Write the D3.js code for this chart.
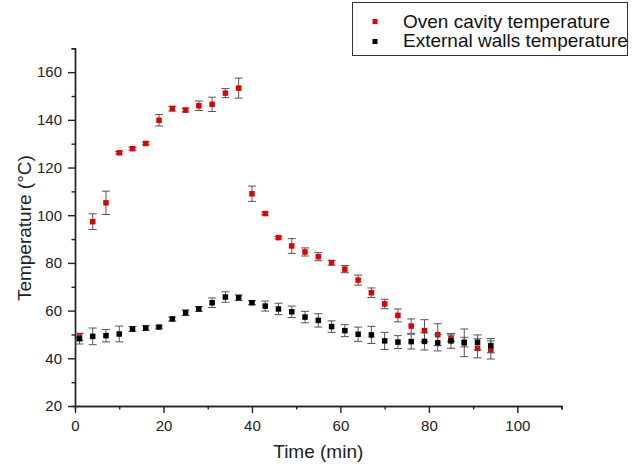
<!DOCTYPE html>
<html>
<head>
<meta charset="utf-8">
<script src="https://cdn.jsdelivr.net/npm/d3@7"></script>
<style>
  body { margin: 0; background: #fff; }
  svg { font-family: "Liberation Sans", Arial, sans-serif; }
</style>
</head>
<body>
<div id="chart"></div>
<script>
"use strict";
// temps de mesure (min)
const time = [1,4,7,10,13,16,19,22,25,28,31,34,37,40,43,46,49,52,55,58,61,64,67,70,73,76,79,82,85,88,91,94];
// four : cavité
const ovenTemp = [49.0,97.3,105.2,126.2,127.9,130.1,139.8,144.7,144.1,145.9,146.5,151.2,153.3,109.0,100.7,90.6,87.1,84.6,82.6,80.1,77.4,72.8,67.5,62.8,58.0,53.5,51.6,49.9,48.4,46.8,44.2,43.5];
const ovenErr = [1.5,3.3,4.9,0.5,0.6,0.6,2.4,1.0,0.8,2.0,3.0,1.9,4.2,3.2,0.6,0.5,3.1,1.7,1.7,1.0,1.5,2.1,2.0,2.0,2.7,3.0,4.6,4.6,1.4,2.0,4.0,3.8];
// parois externes
const wallTemp = [48.2,49.2,49.5,50.2,52.3,52.7,53.1,56.5,59.1,60.7,63.3,65.7,65.4,63.3,61.9,60.7,59.5,57.3,55.9,53.3,51.6,50.1,49.8,47.3,46.8,47.0,47.1,46.5,47.3,46.5,46.7,45.3];
const wallErr = [2.2,3.5,2.6,3.3,1.0,1.0,0.5,0.8,1.2,1.0,2.0,2.2,1.2,0.8,2.1,2.4,2.4,2.4,2.8,2.4,2.5,3.0,3.6,3.6,2.7,3.1,3.6,3.4,3.1,5.8,3.1,3.0];
const seriesNames = ["Oven cavity temperature", "External walls temperature"];
const seriesColors = ["#e00000", "#000000"];
const xMajor = [0,20,40,60,80,100];
const yMajor = [20,40,60,80,100,120,140,160];

const W = 632, H = 470;
const mLeft = 75, mRight = 561.6, mTop = 48.3, mBottom = 406;

const svg = d3.select("#chart").append("svg")
  .attr("width", W).attr("height", H);

const x = d3.scaleLinear().domain([0, 110]).range([mLeft, mRight]);
const y = d3.scaleLinear().domain([20, 170]).range([mBottom, mTop]);

// axes : graduations majeures + mineures
const xMinor = d3.range(10, 111, 20);
const yMinor = d3.range(30, 171, 20);

function styleAxis(g) {
  g.select(".domain").attr("stroke", "#222").attr("stroke-width", 1.4);
  g.selectAll(".tick line").attr("stroke", "#222").attr("stroke-width", 1.4);
  g.selectAll(".tick text").attr("fill", "#222").attr("font-size", 15);
}

svg.append("g").attr("transform", `translate(0,${mBottom})`)
  .call(d3.axisBottom(x).tickValues(xMinor).tickSize(3.5).tickFormat(""))
  .call(g => styleAxis(g));
svg.append("g").attr("transform", `translate(0,${mBottom})`)
  .call(d3.axisBottom(x).tickValues(xMajor).tickSize(7).tickSizeOuter(0).tickPadding(7))
  .call(g => styleAxis(g));

svg.append("g").attr("transform", `translate(${mLeft},0)`)
  .call(d3.axisLeft(y).tickValues(yMinor).tickSize(3.5).tickFormat(""))
  .call(g => styleAxis(g));
svg.append("g").attr("transform", `translate(${mLeft},0)`)
  .call(d3.axisLeft(y).tickValues(yMajor).tickSize(7).tickSizeOuter(0).tickPadding(6))
  .call(g => styleAxis(g));

// titres des axes
svg.append("text")
  .attr("x", x(55)).attr("y", 458)
  .attr("text-anchor", "middle").attr("font-size", 19).attr("fill", "#222")
  .text("Time (min)");
svg.append("text")
  .attr("transform", `translate(31,${(mTop + mBottom) / 2 + 1}) rotate(-90)`)
  .attr("text-anchor", "middle").attr("font-size", 19).attr("fill", "#222")
  .text("Temperature (°C)");

// séries avec barres d'erreur
const series = [
  { vals: ovenTemp, errs: ovenErr, color: seriesColors[0] },
  { vals: wallTemp, errs: wallErr, color: seriesColors[1] }
];
const cap = 4, sq = 5.5;

series.forEach(s => {
  const pts = time.map((t, i) => ({ t: t, v: s.vals[i], e: s.errs[i] }));
  const g = svg.append("g");
  const eb = g.selectAll("g.err").data(pts).enter().append("g")
    .attr("stroke", "#555").attr("stroke-width", 1);
  eb.append("line")
    .attr("x1", d => x(d.t)).attr("x2", d => x(d.t))
    .attr("y1", d => y(d.v - d.e)).attr("y2", d => y(d.v + d.e));
  eb.append("line")
    .attr("x1", d => x(d.t) - cap).attr("x2", d => x(d.t) + cap)
    .attr("y1", d => y(d.v + d.e)).attr("y2", d => y(d.v + d.e));
  eb.append("line")
    .attr("x1", d => x(d.t) - cap).attr("x2", d => x(d.t) + cap)
    .attr("y1", d => y(d.v - d.e)).attr("y2", d => y(d.v - d.e));
  g.selectAll("rect").data(pts).enter().append("rect")
    .attr("x", d => x(d.t) - sq / 2).attr("y", d => y(d.v) - sq / 2)
    .attr("width", sq).attr("height", sq)
    .attr("fill", s.color);
});

// légende
const leg = svg.append("g");
leg.append("rect")
  .attr("x", 352.5).attr("y", 2.5).attr("width", 275).attr("height", 53)
  .attr("fill", "#fff").attr("stroke", "#333").attr("stroke-width", 1);
seriesNames.forEach((n, i) => {
  leg.append("rect")
    .attr("x", 372.5).attr("y", 19 + i * 20).attr("width", 5).attr("height", 5)
    .attr("fill", seriesColors[i]);
  leg.append("text")
    .attr("x", 403).attr("y", 27.5 + i * 19.5)
    .attr("font-size", 19).attr("fill", "#111")
    .text(n);
});
</script>
</body>
</html>
